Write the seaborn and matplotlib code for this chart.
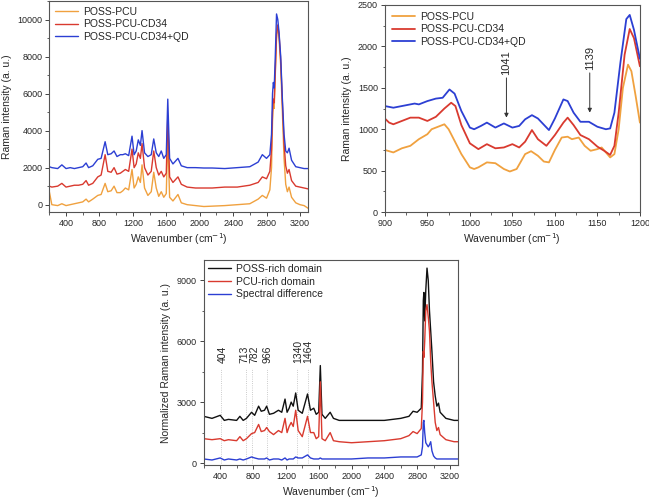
import matplotlib
matplotlib.use("Agg")
import matplotlib.pyplot as plt
from matplotlib.ticker import MultipleLocator
import seaborn as sns
import pandas as pd

# ---- top-left: full spectra -------------------------------------------------
wn_full = [200, 230, 300, 350, 400, 450, 500, 550, 600, 640, 670, 720, 780, 820,
           868, 900, 940, 975, 1010, 1050, 1080, 1110, 1150, 1190, 1215, 1240,
           1265, 1290, 1310, 1340, 1380, 1420, 1450, 1480, 1510, 1540, 1570, 1600,
           1618, 1640, 1680, 1740, 1780, 1850, 1950, 2050, 2150, 2300, 2450, 2600,
           2700, 2750, 2800, 2840, 2860, 2872, 2882, 2892, 2905, 2920, 2935, 2950,
           2970, 2990, 3010, 3030, 3050, 3070, 3100, 3150, 3200, 3250, 3300]
poss_pcu = [700, 0, -50, 50, -50, 0, 50, 100, 150, 300, 150, 300, 500, 550,
            1150, 700, 750, 1000, 650, 650, 750, 900, 800, 1900, 900, 1100,
            1500, 1200, 2150, 900, 500, 700, 1750, 900, 450, 700, 400, 600,
            3700, 400, 200, 550, 100, 0, -50, -100, -80, -50, 0, 50,
            300, 500, 350, 800, 2000, 4500, 5600, 5200, 7000, 9000, 9700, 9000,
            7500, 5000, 2500, 1100, 700, 950, 400, 100, 0, -50, -200]
poss_pcu_cd34 = [1000, 950, 1000, 1150, 950, 1000, 1050, 1050, 1100, 1300, 1050, 1150, 1500, 1600,
                 2700, 1800, 1750, 2000, 1650, 1700, 1800, 1900, 1800, 3000, 2000, 2200,
                 2800, 2500, 3300, 2000, 1600, 1800, 2900, 2000, 1600, 1800, 1500, 1700,
                 4800, 1500, 1200, 1500, 1100, 950, 900, 900, 900, 950, 950, 1050,
                 1200, 1500, 1400, 1800, 3000, 5000, 5700, 5500, 7200, 9200, 9700, 9200,
                 7800, 5500, 3300, 2100, 1700, 1900, 1300, 1000, 950, 900, 850]
poss_pcu_cd34_qd = [2050, 2000, 1950, 2150, 1950, 2000, 1950, 2000, 2050, 2250, 2000, 2100, 2450, 2500,
                    3400, 2700, 2750, 2900, 2600, 2700, 2700, 2750, 2650, 3700, 2700, 2900,
                    3500, 3200, 4000, 2800, 2600, 2700, 3550, 2800, 2600, 2900, 2500, 2700,
                    5700, 2500, 2200, 2500, 2100, 2000, 2000, 1980, 1980, 1950, 2000, 2050,
                    2300, 2700, 2500, 2700, 3800, 6000, 6600, 6300, 8000, 10300, 10000, 9300,
                    8000, 5700, 3800, 2900, 2800, 3050, 2400, 2050, 2000, 1950, 1950]

# ---- top-right: zoom 900-1200 ----------------------------------------------
wn_pcu_zoom = [900, 905, 910, 920, 930, 940, 950, 955, 960, 965, 970, 975, 980, 990,
               1000, 1005, 1010, 1020, 1030, 1040, 1047, 1055, 1065, 1072, 1080, 1087,
               1093, 1100, 1108, 1115, 1120, 1128, 1135, 1142, 1150, 1155, 1160, 1165,
               1170, 1175, 1180, 1186, 1190, 1195, 1200]
pcu_zoom = [750, 735, 720, 770, 800, 880, 940, 1000, 1020, 1040, 1060, 1000, 900, 700,
            540, 520, 540, 600, 590, 520, 490, 520, 700, 735, 680, 610,
            600, 750, 900, 910, 880, 900, 800, 740, 760, 780, 720, 660,
            700, 1000, 1500, 1780, 1700, 1400, 1080]
wn_cd34_zoom = [900, 905, 910, 920, 930, 940, 950, 960, 970, 978, 983, 990, 1000, 1010,
                1020, 1030, 1040, 1050, 1058, 1065, 1073, 1080, 1090, 1100, 1110, 1115,
                1122, 1130, 1140, 1150, 1158, 1165, 1170, 1175, 1182, 1188, 1193, 1200]
cd34_zoom = [1130, 1080, 1060, 1100, 1140, 1140, 1100, 1150, 1250, 1320, 1280, 1050, 830, 760,
             820, 770, 780, 820, 780, 850, 990, 880, 800, 930, 1080, 1140,
             1050, 930, 880, 790, 740, 690, 800, 1200, 1900, 2210, 2100, 1760]
wn_qd_zoom = [900, 905, 910, 920, 930, 935, 940, 950, 960, 968, 976, 982, 990, 1000,
              1005, 1013, 1020, 1030, 1040, 1050, 1058, 1065, 1073, 1080, 1093, 1100,
              1110, 1115, 1122, 1130, 1140, 1150, 1160, 1165, 1170, 1177, 1184, 1188,
              1193, 1200]
qd_zoom = [1280, 1270, 1260, 1280, 1300, 1310, 1300, 1340, 1370, 1380, 1480, 1430, 1220, 1020,
           1000, 1040, 1080, 1020, 1070, 1020, 1040, 1120, 1170, 1130, 990, 1130,
           1360, 1340, 1200, 1090, 1090, 1030, 1000, 1010, 1200, 1800, 2330, 2380,
           2200, 1850]
arrow_peaks = [1041, 1139]
arrow_tips = [1140, 1200]

# ---- bottom: domains --------------------------------------------------------
wn_dom = [200, 300, 400, 450, 500, 600, 640, 680, 720, 782, 820, 868, 900, 940,
          966, 1000, 1050, 1110, 1150, 1190, 1215, 1240, 1265, 1290, 1320, 1350,
          1400, 1464, 1500, 1540, 1570, 1600, 1620, 1640, 1680, 1740, 1780, 1850,
          2000, 2200, 2400, 2600, 2700, 2750, 2800, 2850, 2865, 2875, 2882, 2892,
          2905, 2920, 2935, 2950, 2965, 2980, 3000, 3020, 3040, 3060, 3080, 3150,
          3250, 3300]
poss_rich = [2300, 2200, 2350, 2100, 2150, 2100, 2300, 2100, 2200, 2500, 2350, 2800, 2550, 2600,
             2800, 2400, 2450, 2600, 2500, 3150, 2500, 2700, 3000, 2800, 3450, 2600,
             2450, 3400, 2600, 2700, 2400, 2500, 4800, 2400, 2200, 2500, 2200, 2100,
             2100, 2100, 2100, 2200, 2300, 2550, 2500, 2700, 4500, 8000, 8400, 7000,
             8500, 9600, 9000, 7500, 6500, 5500, 4000, 3300, 2800, 2950, 2500, 2200,
             2100, 2100]
pcu_rich = [1200, 1150, 1200, 1100, 1150, 1100, 1300, 1100, 1200, 1450, 1500, 1900, 1550, 1600,
            1750, 1550, 1400, 1600, 1500, 2200, 1500, 1800, 2000, 1800, 2600, 1600,
            1300, 2300, 1500, 1500, 1200, 1300, 4000, 1200, 1100, 1500, 1100, 1050,
            1000, 1050, 1100, 1200, 1350, 1550, 1450, 1700, 3000, 5500, 5200, 6000,
            7500, 7800, 7200, 6500, 5000, 4000, 3000, 2000, 1600, 1750, 1400, 1150,
            1050, 1050]
spec_diff = [200, 150, 250, 150, 200, 150, 200, 150, 200, 300, 250, 200, 200, 200,
             250, 150, 200, 200, 150, 250, 150, 200, 200, 200, 300, 250,
             250, 400, 250, 200, 200, 200, 250, 200, 200, 200, 200, 200,
             200, 250, 250, 300, 300, 300, 300, 400, 800, 2000, 2100, 1500,
             1000, 900, 800, 900, 1050, 600, 350, 250, 200, 200, 200, 200,
             200, 200]
marker_bands = [404, 713, 782, 966, 1340, 1464]
marker_text_x = [428, 700, 818, 978, 1355, 1470]

C_ORANGE = '#f0a13f'
C_RED = '#d93a2f'
C_BLUE = '#2c3fd3'
TXT = '#262626'

sns.set_style("ticks")
plt.rcParams['font.family'] = ['Liberation Sans', 'DejaVu Sans']
plt.rcParams['text.color'] = TXT
plt.rcParams['axes.labelcolor'] = TXT
plt.rcParams['xtick.color'] = '#444444'
plt.rcParams['ytick.color'] = '#444444'
plt.rcParams['xtick.labelcolor'] = TXT
plt.rcParams['ytick.labelcolor'] = TXT
plt.rcParams['axes.edgecolor'] = '#555555'
plt.rcParams['axes.linewidth'] = 0.8

fig = plt.figure(figsize=(6.49, 4.99), dpi=100)
ax1 = fig.add_axes([0.076, 0.575, 0.399, 0.423])
ax2 = fig.add_axes([0.593, 0.575, 0.393, 0.415])
ax3 = fig.add_axes([0.314, 0.068, 0.392, 0.411])

LW = 1.0


def style_axis(ax, xmaj, xmin, ymaj, ymin, ylabel, leg_pad):
    ax.xaxis.set_major_locator(MultipleLocator(xmaj))
    ax.xaxis.set_minor_locator(MultipleLocator(xmin))
    ax.yaxis.set_major_locator(MultipleLocator(ymaj))
    ax.yaxis.set_minor_locator(MultipleLocator(ymin))
    ax.tick_params(which='major', length=3, width=0.7, labelsize=6.5, pad=2)
    ax.tick_params(which='minor', length=1.8, width=0.6)
    ax.set_xlabel('Wavenumber (cm$^{-1}$)', fontsize=7.5, labelpad=2)
    ax.set_ylabel(ylabel, fontsize=7.5, labelpad=4)
    for s in ax.spines.values():
        s.set_visible(True)
    ax.legend(loc='upper left', frameon=False, fontsize=7.5, handlelength=2.2,
              labelspacing=0.25, borderpad=0.2, borderaxespad=leg_pad,
              handletextpad=0.5)


# top-left
df1 = pd.DataFrame({'wn': wn_full, 'POSS-PCU': poss_pcu,
                    'POSS-PCU-CD34': poss_pcu_cd34,
                    'POSS-PCU-CD34+QD': poss_pcu_cd34_qd})
for name, col in [('POSS-PCU', C_ORANGE), ('POSS-PCU-CD34', C_RED),
                  ('POSS-PCU-CD34+QD', C_BLUE)]:
    sns.lineplot(data=df1, x='wn', y=name, color=col, lw=LW, label=name,
                 estimator=None, ax=ax1)
ax1.set_xlim(200, 3300)
ax1.set_ylim(-400, 11000)
style_axis(ax1, 400, 200, 2000, 1000, 'Raman intensity (a. u.)', 0.35)

# top-right
sns.lineplot(x=wn_pcu_zoom, y=pcu_zoom, color=C_ORANGE, lw=LW + 0.3,
             label='POSS-PCU', estimator=None, ax=ax2)
sns.lineplot(x=wn_cd34_zoom, y=cd34_zoom, color=C_RED, lw=LW + 0.3,
             label='POSS-PCU-CD34', estimator=None, ax=ax2)
sns.lineplot(x=wn_qd_zoom, y=qd_zoom, color=C_BLUE, lw=LW + 0.3,
             label='POSS-PCU-CD34+QD', estimator=None, ax=ax2)
ax2.set_xlim(900, 1200)
ax2.set_ylim(0, 2500)
style_axis(ax2, 50, 25, 500, 250, 'Raman intensity (a. u.)', 0.45)
for pk, tip in zip(arrow_peaks, arrow_tips):
    ax2.annotate('', xy=(pk + 2, tip), xytext=(pk + 2, tip + 480),
                 arrowprops=dict(arrowstyle='-|>', color='#333333', lw=0.7,
                                 mutation_scale=6, shrinkA=0, shrinkB=0))
    ax2.text(pk + 2, tip + 520, str(pk), rotation=90, ha='center',
             va='bottom', fontsize=8)

# bottom
df3 = pd.DataFrame({'wn': wn_dom, 'POSS-rich domain': poss_rich,
                    'PCU-rich domain': pcu_rich,
                    'Spectral difference': spec_diff})
for name, col in [('POSS-rich domain', '#111111'), ('PCU-rich domain', C_RED),
                  ('Spectral difference', C_BLUE)]:
    sns.lineplot(data=df3, x='wn', y=name, color=col, lw=LW, label=name,
                 estimator=None, ax=ax3)
for b, tx in zip(marker_bands, marker_text_x):
    ax3.plot([b, b], [0, 4700], color='#bbbbbb', lw=0.6, ls=':', zorder=0)
    ax3.text(tx, 4950, str(b), rotation=90, ha='center', va='bottom',
             fontsize=7.5)
ax3.set_xlim(200, 3300)
ax3.set_ylim(-100, 10000)
style_axis(ax3, 400, 200, 3000, 1500, 'Normalized Raman intensity (a. u.)', 0.2)

fig.savefig('out.png', dpi=100)
